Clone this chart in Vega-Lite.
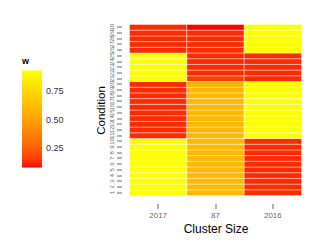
{
  "$schema": "https://vega.github.io/schema/vega-lite/v6.json",
  "width": 172,
  "height": 171,
  "autosize": {"type": "none"},
  "padding": {"left": 129.5, "top": 24.5, "right": 25.5, "bottom": 49.5},
  "config": {
    "font": "Liberation Sans",
    "view": {"stroke": null},
    "axis": {"domain": false, "grid": false, "tickColor": "#666666", "labelColor": "#666666"}
  },
  "data": {
    "values": [
      {"cluster": "2017", "condition": 1, "w": 0.93}, {"cluster": "2017", "condition": 2, "w": 0.93},
      {"cluster": "2017", "condition": 3, "w": 0.93}, {"cluster": "2017", "condition": 4, "w": 0.93},
      {"cluster": "2017", "condition": 5, "w": 0.93}, {"cluster": "2017", "condition": 6, "w": 0.93},
      {"cluster": "2017", "condition": 7, "w": 0.93}, {"cluster": "2017", "condition": 8, "w": 0.93},
      {"cluster": "2017", "condition": 9, "w": 0.93}, {"cluster": "2017", "condition": 10, "w": 0.93},
      {"cluster": "2017", "condition": 11, "w": 0.12}, {"cluster": "2017", "condition": 12, "w": 0.12},
      {"cluster": "2017", "condition": 13, "w": 0.12}, {"cluster": "2017", "condition": 14, "w": 0.12},
      {"cluster": "2017", "condition": 15, "w": 0.12}, {"cluster": "2017", "condition": 16, "w": 0.12},
      {"cluster": "2017", "condition": 17, "w": 0.12}, {"cluster": "2017", "condition": 18, "w": 0.12},
      {"cluster": "2017", "condition": 19, "w": 0.12}, {"cluster": "2017", "condition": 20, "w": 0.12},
      {"cluster": "2017", "condition": 21, "w": 0.93}, {"cluster": "2017", "condition": 22, "w": 0.93},
      {"cluster": "2017", "condition": 23, "w": 0.93}, {"cluster": "2017", "condition": 24, "w": 0.93},
      {"cluster": "2017", "condition": 25, "w": 0.93}, {"cluster": "2017", "condition": 26, "w": 0.12},
      {"cluster": "2017", "condition": 27, "w": 0.12}, {"cluster": "2017", "condition": 28, "w": 0.12},
      {"cluster": "2017", "condition": 29, "w": 0.12}, {"cluster": "2017", "condition": 30, "w": 0.12},
      {"cluster": "87", "condition": 1, "w": 0.6}, {"cluster": "87", "condition": 2, "w": 0.6},
      {"cluster": "87", "condition": 3, "w": 0.6}, {"cluster": "87", "condition": 4, "w": 0.6},
      {"cluster": "87", "condition": 5, "w": 0.6}, {"cluster": "87", "condition": 6, "w": 0.6},
      {"cluster": "87", "condition": 7, "w": 0.6}, {"cluster": "87", "condition": 8, "w": 0.6},
      {"cluster": "87", "condition": 9, "w": 0.6}, {"cluster": "87", "condition": 10, "w": 0.6},
      {"cluster": "87", "condition": 11, "w": 0.6}, {"cluster": "87", "condition": 12, "w": 0.6},
      {"cluster": "87", "condition": 13, "w": 0.6}, {"cluster": "87", "condition": 14, "w": 0.6},
      {"cluster": "87", "condition": 15, "w": 0.6}, {"cluster": "87", "condition": 16, "w": 0.6},
      {"cluster": "87", "condition": 17, "w": 0.6}, {"cluster": "87", "condition": 18, "w": 0.6},
      {"cluster": "87", "condition": 19, "w": 0.6}, {"cluster": "87", "condition": 20, "w": 0.58},
      {"cluster": "87", "condition": 21, "w": 0.16}, {"cluster": "87", "condition": 22, "w": 0.12},
      {"cluster": "87", "condition": 23, "w": 0.12}, {"cluster": "87", "condition": 24, "w": 0.12},
      {"cluster": "87", "condition": 25, "w": 0.12}, {"cluster": "87", "condition": 26, "w": 0.12},
      {"cluster": "87", "condition": 27, "w": 0.12}, {"cluster": "87", "condition": 28, "w": 0.12},
      {"cluster": "87", "condition": 29, "w": 0.12}, {"cluster": "87", "condition": 30, "w": 0.08},
      {"cluster": "2016", "condition": 1, "w": 0.12}, {"cluster": "2016", "condition": 2, "w": 0.12},
      {"cluster": "2016", "condition": 3, "w": 0.12}, {"cluster": "2016", "condition": 4, "w": 0.12},
      {"cluster": "2016", "condition": 5, "w": 0.12}, {"cluster": "2016", "condition": 6, "w": 0.12},
      {"cluster": "2016", "condition": 7, "w": 0.12}, {"cluster": "2016", "condition": 8, "w": 0.12},
      {"cluster": "2016", "condition": 9, "w": 0.12}, {"cluster": "2016", "condition": 10, "w": 0.12},
      {"cluster": "2016", "condition": 11, "w": 0.93}, {"cluster": "2016", "condition": 12, "w": 0.93},
      {"cluster": "2016", "condition": 13, "w": 0.93}, {"cluster": "2016", "condition": 14, "w": 0.93},
      {"cluster": "2016", "condition": 15, "w": 0.93}, {"cluster": "2016", "condition": 16, "w": 0.93},
      {"cluster": "2016", "condition": 17, "w": 0.93}, {"cluster": "2016", "condition": 18, "w": 0.93},
      {"cluster": "2016", "condition": 19, "w": 0.93}, {"cluster": "2016", "condition": 20, "w": 0.93},
      {"cluster": "2016", "condition": 21, "w": 0.12}, {"cluster": "2016", "condition": 22, "w": 0.12},
      {"cluster": "2016", "condition": 23, "w": 0.12}, {"cluster": "2016", "condition": 24, "w": 0.12},
      {"cluster": "2016", "condition": 25, "w": 0.12}, {"cluster": "2016", "condition": 26, "w": 0.93},
      {"cluster": "2016", "condition": 27, "w": 0.93}, {"cluster": "2016", "condition": 28, "w": 0.93},
      {"cluster": "2016", "condition": 29, "w": 0.93}, {"cluster": "2016", "condition": 30, "w": 0.935}
    ]
  },
  "mark": {"type": "rect", "stroke": "#ffffff", "strokeWidth": 0.6, "strokeOpacity": 0.7},
  "encoding": {
    "x": {
      "field": "cluster", "type": "nominal", "sort": ["2017", "87", "2016"],
      "scale": {"paddingInner": 0, "paddingOuter": 0},
      "axis": {"title": "Cluster Size", "titleFontSize": 12, "titleFontWeight": "normal", "titleColor": "#000000", "titlePadding": 4,
               "labelAngle": 0, "labelFontSize": 8, "labelPadding": 3, "tickSize": 5, "offset": 8}
    },
    "y": {
      "field": "condition", "type": "ordinal", "sort": "descending",
      "scale": {"paddingInner": 0, "paddingOuter": 0},
      "axis": {"title": "Condition", "titleFontSize": 11.5, "titleFontWeight": "normal", "titleColor": "#000000", "titlePadding": 2,
               "labelAngle": -90, "labelAlign": "center", "labelBaseline": "bottom", "labelFontSize": 6, "labelPadding": 2,
               "labelOverlap": false, "tickSize": 5, "offset": 8}
    },
    "color": {
      "field": "w", "type": "quantitative",
      "scale": {"domain": [0.08, 0.935], "range": ["#FF0000", "#FFFF00"], "interpolate": "lab"},
      "legend": {"orient": "none", "legendX": -107.5, "legendY": 32, "title": "w", "titleFontSize": 9, "titleFontWeight": "bold",
                 "titleColor": "#000000", "gradientLength": 97, "gradientThickness": 20, "values": [0.25, 0.5, 0.75], "format": ".2f",
                 "labelFontSize": 9, "labelColor": "#333333", "labelOffset": 4, "tickCount": 3}
    }
  }
}
